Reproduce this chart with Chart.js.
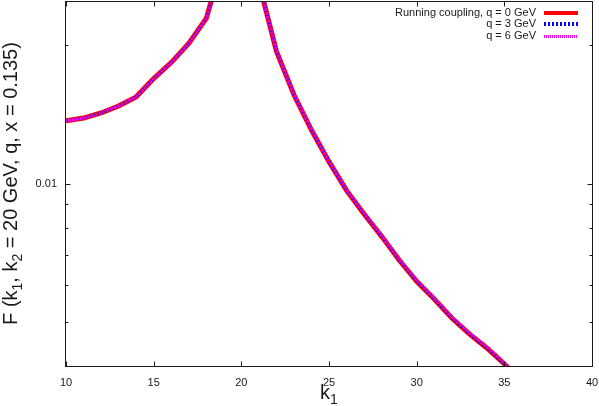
<!DOCTYPE html>
<html>
<head>
<meta charset="utf-8">
<script src="https://cdn.jsdelivr.net/npm/chart.js@4/dist/chart.umd.min.js"></script>
<style>
  html, body { margin: 0; padding: 0; background: #fff; }
  #wrap { width: 599px; height: 406px; }
</style>
</head>
<body>
<div id="wrap"><canvas id="chart" width="599" height="406"></canvas></div>
<script>
// k1 grid (GeV) and F values; 19-21 run past the top and get clipped
const k1Values = [10, 11, 12, 13, 14, 15, 16, 17, 18, 19, 20, 21, 22, 23, 24, 25, 26, 27, 28, 29, 30, 31, 32, 33, 34, 35, 36];
const fQ0 = [0.0137, 0.01389, 0.01425, 0.01476, 0.01545, 0.01693, 0.01835, 0.0202, 0.0229, 0.0311, 0.045, 0.0274,
             0.01944, 0.01561, 0.01308, 0.01116, 0.00966, 0.00858, 0.00767, 0.00681, 0.00612, 0.0056, 0.00509, 0.0047, 0.00438, 0.00404, 0.0037];
const fQ3 = [0.0137, 0.01389, 0.01425, 0.01476, 0.01545, 0.01693, 0.01835, 0.0202, 0.0229, 0.0311, 0.045, 0.0274,
             0.01944, 0.01561, 0.01308, 0.01116, 0.00966, 0.00858, 0.00767, 0.00681, 0.00612, 0.0056, 0.00509, 0.0047, 0.00438, 0.00404, 0.0037];
const fQ6 = [0.0137, 0.01389, 0.01425, 0.01476, 0.01545, 0.01693, 0.01835, 0.0202, 0.0229, 0.0311, 0.045, 0.0274,
             0.01946, 0.01564, 0.01311, 0.01119, 0.00969, 0.00861, 0.0077, 0.00684, 0.00615, 0.00563, 0.00512, 0.00473, 0.00441, 0.00407, 0.00373];
const seriesLabels = ['Running coupling, q = 0 GeV', 'q = 3 GeV', 'q = 6 GeV'];

const xTickValues = [10, 15, 20, 25, 30, 35, 40];
const yTickValues = [0.004, 0.005, 0.006, 0.007, 0.008, 0.009, 0.01, 0.02];
const yMajorTicks = [0.01];

const FONT = '"Liberation Sans", Arial, Helvetica, sans-serif';
const INK = '#1a1a1a';

function toPoints(ys) {
    return k1Values.map((k, i) => ({ x: k, y: ys[i] }));
}

// gnuplot style frame: box round the plot and ticks pointing inward on every side
const frameTicks = {
    id: 'frameTicks',
    afterDatasetsDraw(chart) {
        const { ctx, chartArea: a, scales: { x, y } } = chart;
        const L = Math.round(a.left) - 0.5, R = Math.round(a.right) + 0.5;
        const T = Math.round(a.top) + 0.5, B = Math.round(a.bottom) + 0.5;
        ctx.save();
        ctx.strokeStyle = INK;
        ctx.lineWidth = 1;
        ctx.strokeRect(L, T, R - L, B - T);
        ctx.beginPath();
        x.ticks.forEach(t => {
            const px = Math.round(x.getPixelForValue(t.value)) + 0.5;
            ctx.moveTo(px, B); ctx.lineTo(px, B - 5);
            ctx.moveTo(px, T); ctx.lineTo(px, T + 5);
        });
        y.ticks.forEach(t => {
            const py = Math.round(y.getPixelForValue(t.value)) + 0.5;
            const len = yMajorTicks.includes(t.value) ? 5 : 3;
            ctx.moveTo(L, py); ctx.lineTo(L + len, py);
            ctx.moveTo(R, py); ctx.lineTo(R - len, py);
        });
        ctx.stroke();
        ctx.restore();
    }
};

// key in the top right corner: right aligned text, line sample after it
const keyBox = {
    id: 'keyBox',
    afterDraw(chart) {
        const { ctx, chartArea: a } = chart;
        const right = Math.round(a.right);
        const sampleWidths = [4, 4, 3];
        ctx.save();
        ctx.font = '11px ' + FONT;
        ctx.textAlign = 'right';
        ctx.textBaseline = 'middle';
        chart.data.datasets.forEach((ds, i) => {
            const yy = Math.round(a.top + 11.5 + i * 11.6);
            ctx.fillStyle = INK;
            ctx.fillText(ds.label, right - 56, yy);
            const lw = sampleWidths[i];
            const off = lw % 2 ? 0.5 : 0;
            ctx.strokeStyle = ds.borderColor;
            ctx.lineWidth = lw;
            ctx.setLineDash(ds.borderDash || []);
            ctx.beginPath();
            ctx.moveTo(right - 48, yy + off);
            ctx.lineTo(right - 14, yy + off);
            ctx.stroke();
        });
        ctx.restore();
    }
};

// axis titles with subscripts
function drawParts(ctx, parts, startX, baseY) {
    let cx = startX;
    parts.forEach(p => {
        ctx.font = (p.sub ? '14px ' : '20px ') + FONT;
        ctx.fillText(p.t, cx, baseY + (p.sub ? 5 : 0));
        cx += ctx.measureText(p.t).width;
    });
}
function partsWidth(ctx, parts) {
    let w = 0;
    parts.forEach(p => {
        ctx.font = (p.sub ? '14px ' : '20px ') + FONT;
        w += ctx.measureText(p.t).width;
    });
    return w;
}
const axisTitles = {
    id: 'axisTitles',
    afterDraw(chart) {
        const { ctx, chartArea: a } = chart;
        ctx.save();
        ctx.fillStyle = INK;
        ctx.textAlign = 'left';
        ctx.textBaseline = 'alphabetic';
        const xParts = [{ t: 'k' }, { t: '1', sub: true }];
        const xw = partsWidth(ctx, xParts);
        drawParts(ctx, xParts, (a.left + a.right) / 2 - xw / 2, 399);

        const yParts = [{ t: 'F (k' }, { t: '1', sub: true }, { t: ', k' }, { t: '2', sub: true },
                        { t: ' = 20 GeV, q, x = 0.135)' }];
        const yw = partsWidth(ctx, yParts);
        ctx.translate(17, (a.top + a.bottom) / 2);
        ctx.rotate(-Math.PI / 2);
        drawParts(ctx, yParts, -yw / 2, 0);
        ctx.restore();
    }
};

new Chart(document.getElementById('chart').getContext('2d'), {
    type: 'line',
    data: {
        datasets: [
            { label: seriesLabels[0], data: toPoints(fQ0), borderColor: '#ff0000', borderWidth: 5, order: 2 },
            { label: seriesLabels[1], data: toPoints(fQ3), borderColor: '#0000ff', borderWidth: 3, borderDash: [2, 2], order: 1 },
            { label: seriesLabels[2], data: toPoints(fQ6), borderColor: '#ff00ff', borderWidth: 3, borderDash: [1, 1], order: 0 }
        ]
    },
    options: {
        responsive: false,
        animation: false,
        devicePixelRatio: 1,
        layout: { padding: { top: 1, right: 7, left: 0, bottom: 0 } },
        elements: { point: { radius: 0 }, line: { tension: 0, fill: false } },
        datasets: { line: { clip: 0 } },
        plugins: { legend: { display: false }, tooltip: { enabled: false } },
        scales: {
            x: {
                type: 'linear', min: 10, max: 40,
                afterBuildTicks: s => { s.ticks = xTickValues.map(v => ({ value: v })); },
                afterFit: s => { s.height = 40; s.paddingLeft = 0; s.paddingRight = 0; },
                grid: { display: false, drawTicks: false },
                border: { display: false },
                ticks: { color: INK, font: { family: FONT, size: 11 }, padding: 10, maxRotation: 0 }
            },
            y: {
                type: 'logarithmic', min: 0.004, max: 0.025,
                afterBuildTicks: s => { s.ticks = yTickValues.map(v => ({ value: v })); },
                afterFit: s => { s.width = 66; s.paddingTop = 0; s.paddingBottom = 0; },
                grid: { display: false, drawTicks: false },
                border: { display: false },
                ticks: {
                    color: INK, font: { family: FONT, size: 11 }, padding: 9, autoSkip: false,
                    callback: v => (yMajorTicks.includes(v) ? '0.01' : '')
                }
            }
        }
    },
    plugins: [frameTicks, keyBox, axisTitles]
});
</script>
</body>
</html>
